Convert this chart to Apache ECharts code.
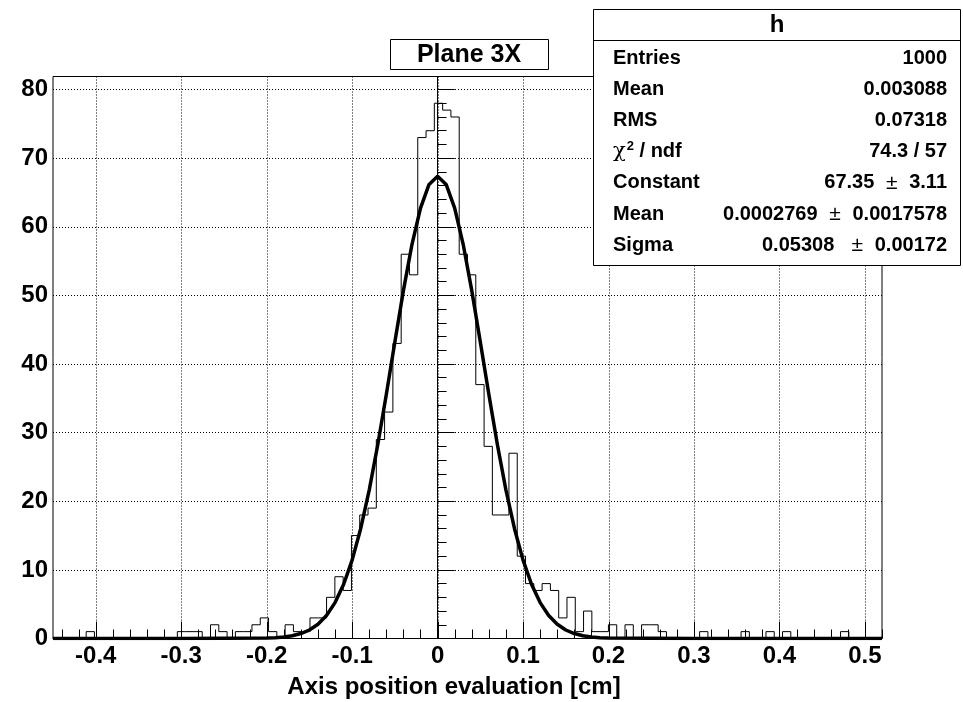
<!DOCTYPE html>
<html>
<head>
<meta charset="utf-8">
<script src="https://cdn.jsdelivr.net/npm/echarts@6/dist/echarts.min.js"></script>
<style>
html,body{margin:0;padding:0;background:#fff;}
#chart{width:963px;height:702px;}
</style>
</head>
<body>
<div id="chart"></div>
<script>
// ---- data ----
const histLow = -0.45;
const histHigh = 0.52;
const binWidth = 0.0097;
const binCounts = [
  0,0,0,0,1,0,0,0,0,0,
  0,0,0,0,0,1,1,1,0,2,
  1,0,1,1,2,3,1,0,2,1,
  1,3,3,6,9,7,15,18,19,29,
  33,43,56,53,73,74,78,77,76,56,
  53,37,28,18,18,27,12,8,7,8,
  7,3,6,1,4,1,1,2,0,2,
  0,2,2,1,0,0,0,0,1,0,
  0,0,0,1,0,0,1,0,1,0,
  0,0,0,0,0,1,0,0,0,0
];
// Gaussian fit curve, read at sample positions
const fitX = [-0.45,-0.30,-0.20,-0.19,-0.18,-0.17,-0.16,-0.15,-0.14,-0.13,-0.12,-0.11,-0.10,-0.09,-0.08,-0.07,-0.06,-0.05,-0.04,-0.03,-0.02,-0.01,0.00,
              0.01,0.02,0.03,0.04,0.05,0.06,0.07,0.08,0.09,0.10,0.11,0.12,0.13,0.14,0.15,0.16,0.17,0.18,0.19,0.20,0.30,0.52];
const fitY = [0,0,0.06,0.11,0.21,0.40,0.72,1.24,2.08,3.36,5.23,7.87,11.42,16.00,21.63,28.23,35.55,43.22,50.70,57.41,62.73,66.17,67.35,
              66.17,62.73,57.41,50.70,43.22,35.55,28.23,21.63,16.00,11.42,7.87,5.23,3.36,2.08,1.24,0.72,0.40,0.21,0.11,0.06,0,0];
const xTickLabels = [-0.4,-0.3,-0.2,-0.1,0,0.1,0.2,0.3,0.4,0.5];
const yMax = 81.9;
const statRows = [
  ['Entries', '1000'],
  ['Mean', '0.003088'],
  ['RMS', '0.07318'],
  ['CHI', '74.3 / 57'],
  ['Constant', '67.35', '3.11'],
  ['Mean', '0.0002769', '0.0017578'],
  ['Sigma', '0.05308 ', '0.00172']
];

// ---- build ----
const histData = binCounts.map((c, k) => [histLow + k * binWidth, c]);
histData.push([histLow + binCounts.length * binWidth, binCounts[binCounts.length - 1]]);
const fitData = fitX.map((x, i) => [x, fitY[i]]);

const tickData = [];
xTickLabels.forEach(v => tickData.push([v, 1]));
for (let i = -22; i <= 26; i++) {
  const v = i * 0.02;
  if (i % 5 !== 0) tickData.push([v, 0]);
}

const FONT = 'Liberation Sans, Arial, Helvetica, sans-serif';

function renderTick(params, api) {
  const v = api.value(0);
  const major = api.value(1) === 1;
  const p = api.coord([v, 0]);
  const cs = params.coordSys;
  const x = Math.round(p[0]) + 0.5;
  const yb = cs.y + cs.height;
  const ch = [];
  if (major) {
    ch.push({type: 'line', shape: {x1: x, y1: cs.y, x2: x, y2: yb},
      style: {stroke: '#000', lineWidth: 1, lineDash: [1, 2]}});
  }
  ch.push({type: 'line', shape: {x1: x, y1: yb, x2: x, y2: yb - (major ? 17 : 9)},
    style: {stroke: '#000', lineWidth: 1}});
  return {type: 'group', children: ch};
}

const graphics = [];
// title box
graphics.push({type: 'rect', shape: {x: 390.5, y: 39.5, width: 158, height: 30},
  style: {fill: '#fff', stroke: '#000', lineWidth: 1}, z: 100});
graphics.push({type: 'text', x: 469, y: 55, z: 101,
  style: {text: 'Plane 3X', font: 'bold 25px ' + FONT, fill: '#000', align: 'center', verticalAlign: 'middle'}});
// stats box
graphics.push({type: 'rect', shape: {x: 593.5, y: 9.5, width: 367, height: 256},
  style: {fill: '#fff', stroke: '#000', lineWidth: 1}, z: 100});
graphics.push({type: 'line', shape: {x1: 593.5, y1: 40.5, x2: 960.5, y2: 40.5},
  style: {stroke: '#000', lineWidth: 1}, z: 101});
graphics.push({type: 'text', x: 777, y: 25, z: 101,
  style: {text: 'h', font: 'bold 24px ' + FONT, fill: '#000', align: 'center', verticalAlign: 'middle'}});
statRows.forEach((r, i) => {
  const y = 58.5 + i * 31.1;
  const label = r[0];
  let labelStyle = {text: label, font: 'bold 20px ' + FONT, fill: '#000', align: 'left', verticalAlign: 'middle'};
  if (label === 'CHI') {
    labelStyle = {
      text: '{g|χ}{s|2}{n| / ndf}', align: 'left', verticalAlign: 'middle', fill: '#000',
      rich: {
        g: {font: '21px DejaVu Serif, serif', fill: '#000'},
        s: {font: 'bold 13px ' + FONT, fill: '#000', verticalAlign: 'top', padding: [0, 0, 10, 1]},
        n: {font: 'bold 20px ' + FONT, fill: '#000'}
      }
    };
  }
  graphics.push({type: 'text', x: 613, y: y, z: 101, style: labelStyle});
  let valStyle;
  if (r.length === 3) {
    valStyle = {
      text: '{v|' + r[1] + '}{p|  ±  }{v|' + r[2] + '}', align: 'right', verticalAlign: 'middle', fill: '#000',
      rich: {
        v: {font: 'bold 20px ' + FONT, fill: '#000'},
        p: {font: '21px ' + FONT, fill: '#000'}
      }
    };
  } else {
    valStyle = {text: r[1], font: 'bold 20px ' + FONT, fill: '#000', align: 'right', verticalAlign: 'middle'};
  }
  graphics.push({type: 'text', x: 947, y: y, z: 101, style: valStyle});
});
// x axis title
graphics.push({type: 'text', x: 454, y: 687, z: 101,
  style: {text: 'Axis position evaluation [cm]', font: 'bold 24px ' + FONT, fill: '#000', align: 'center', verticalAlign: 'middle'}});

const chart = echarts.init(document.getElementById('chart'), null, {renderer: 'canvas'});
chart.setOption({
  backgroundColor: '#fff',
  animation: false,
  grid: {left: 53, right: 81, top: 76.5, bottom: 63.5, show: true, borderColor: '#000', borderWidth: 1, backgroundColor: '#fff'},
  xAxis: {
    type: 'value', min: histLow, max: histHigh,
    axisLine: {show: true, onZero: false, lineStyle: {color: '#000', width: 1}},
    axisTick: {show: false},
    splitLine: {show: false},
    axisLabel: {
      customValues: xTickLabels,
      fontFamily: FONT, fontWeight: 'bold', fontSize: 24, color: '#000', margin: 6,
      formatter: v => String(Math.round(v * 10) / 10)
    }
  },
  yAxis: {
    type: 'value', min: 0, max: yMax, interval: 10,
    axisLine: {show: true, lineStyle: {color: '#000', width: 1}},
    axisTick: {show: true, inside: true, length: 17, lineStyle: {color: '#000'}},
    minorTick: {show: true, splitNumber: 5, length: 9, lineStyle: {color: '#000'}},
    splitLine: {show: true, lineStyle: {color: '#000', width: 1, type: [1, 2]}},
    axisLabel: {fontFamily: FONT, fontWeight: 'bold', fontSize: 24, color: '#000', margin: 5, showMaxLabel: false}
  },
  series: [
    {
      type: 'custom', name: 'ticks', data: tickData, renderItem: renderTick, silent: true, z: 1,
      encode: {x: 0}
    },
    {
      type: 'line', name: 'h', data: histData, step: 'end', symbol: 'none', silent: true, z: 2,
      lineStyle: {color: '#000', width: 1}
    },
    {
      type: 'line', name: 'gaus', data: fitData, smooth: false, symbol: 'none', silent: true, z: 3,
      lineStyle: {color: '#000', width: 3.5, join: 'round'}
    }
  ],
  graphic: graphics
});
</script>
</body>
</html>
